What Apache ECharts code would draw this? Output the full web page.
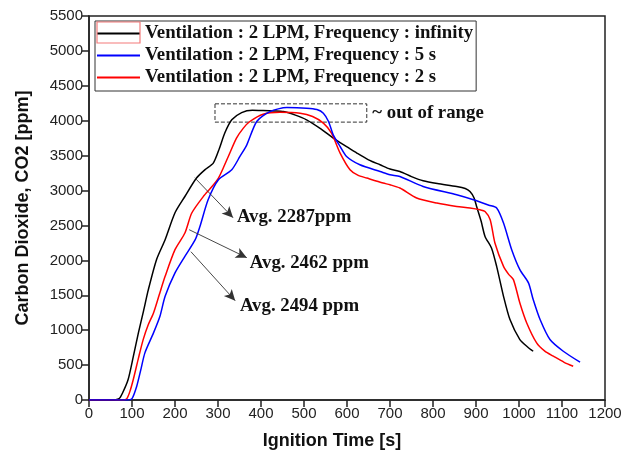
<!doctype html>
<html>
<head>
<meta charset="UTF-8">
<title>CO2</title>
<script src="https://cdn.jsdelivr.net/npm/echarts@6/dist/echarts.min.js"></script>
<style>
  html, body { margin: 0; padding: 0; background: #fff; }
  #chart { width: 634px; height: 459px; }
</style>
</head>
<body>
<div id="chart"></div>
<script>
// series names
var names = [
  'Ventilation : 2 LPM, Frequency : infinity',
  'Ventilation : 2 LPM, Frequency : 5 s',
  'Ventilation : 2 LPM, Frequency : 2 s'
];

// Frequency : infinity (black)
var blackT = [0, 50, 70, 78, 91, 103, 115, 127, 138, 157, 177, 200, 223, 250, 270, 289, 303, 316, 332, 355, 380, 405, 430, 452, 480, 506, 540, 568, 600, 623, 650, 677, 700, 723, 750, 777, 810, 855, 875, 886, 895, 902, 912, 921, 936, 948, 964, 979, 1002, 1020, 1033];
var blackV = [0, 0, 20, 100, 293, 620, 965, 1280, 1580, 2010, 2296, 2682, 2915, 3179, 3300, 3393, 3600, 3827, 4013, 4117, 4150, 4146, 4140, 4131, 4080, 4013, 3880, 3751, 3625, 3536, 3440, 3369, 3308, 3273, 3200, 3140, 3100, 3059, 3030, 2987, 2900, 2760, 2560, 2343, 2177, 1914, 1485, 1152, 866, 760, 698];

// Frequency : 5 s (blue)
var blueT = [0, 90, 100, 111, 120, 130, 150, 165, 177, 200, 223, 247, 258, 277, 301, 332, 351, 367, 390, 421, 460, 506, 530, 545, 557, 568, 584, 599, 630, 677, 700, 723, 777, 855, 894, 930, 948, 964, 983, 1002, 1022, 1033, 1049, 1072, 1103, 1142];
var blueV = [0, 0, 20, 198, 420, 675, 961, 1200, 1485, 1820, 2057, 2296, 2486, 2868, 3155, 3298, 3488, 3655, 3989, 4131, 4189, 4180, 4160, 4108, 3989, 3798, 3631, 3488, 3369, 3273, 3226, 3202, 3059, 2940, 2868, 2790, 2750, 2535, 2153, 1867, 1677, 1438, 1152, 866, 698, 541];

// Frequency : 2 s (red)
var redT = [0, 80, 88, 95, 103, 115, 126, 138, 150, 163, 177, 200, 223, 239, 266, 285, 301, 312, 324, 343, 359, 374, 405, 444, 491, 520, 545, 564, 584, 607, 625, 646, 684, 700, 723, 762, 809, 855, 886, 909, 921, 933, 944, 964, 976, 987, 1002, 1018, 1041, 1060, 1080, 1105, 1126];
var redV = [0, 0, 20, 120, 293, 600, 865, 1080, 1247, 1500, 1771, 2153, 2392, 2678, 2916, 3050, 3179, 3320, 3488, 3751, 3894, 3989, 4094, 4122, 4108, 4060, 3965, 3822, 3536, 3297, 3220, 3179, 3107, 3083, 3036, 2893, 2821, 2773, 2750, 2725, 2701, 2582, 2249, 1914, 1800, 1724, 1390, 1104, 818, 700, 627, 540, 484];

// annotations
var avgTexts = ['Avg. 2287ppm', 'Avg. 2462 ppm', 'Avg. 2494 ppm'];
var arrowFrom = [[246, 3183], [233, 2439], [237, 2124]];
var arrowTo = [[335, 2611], [367, 2039], [340, 1423]];
var textAt = [[344, 2625], [374, 1967], [351, 1338]];
var rangeBox = [[293, 4242], [646, 3980]];

function pairs(t, v) {
  var out = [];
  for (var i = 0; i < t.length; i++) out.push([t[i], v[i]]);
  return out;
}

var serif = '"Liberation Serif", "Times New Roman", serif';
var sans = '"Liberation Sans", Arial, sans-serif';

var myChart = echarts.init(document.getElementById('chart'));

var arrowLines = [];
var avgPoints = [];
for (var i = 0; i < arrowFrom.length; i++) {
  arrowLines.push([{ coord: arrowFrom[i] }, { coord: arrowTo[i] }]);
  avgPoints.push({ coord: textAt[i], value: avgTexts[i] });
}

var baseLine = {
  type: 'line',
  symbol: 'none',
  smooth: 0.25,
  animation: false
};

var option = {
  backgroundColor: '#fff',
  animation: false,
  grid: {
    left: 89, right: 29, top: 16, bottom: 59,
    show: true, borderColor: '#222', borderWidth: 1.5
  },
  legend: {
    orient: 'vertical',
    left: 95, top: 21,
    padding: [2, 3, 3, 2],
    itemGap: 1,
    itemWidth: 43,
    itemHeight: 2,
    icon: 'rect',
    borderColor: '#333',
    borderWidth: 1,
    backgroundColor: '#fff',
    textStyle: { fontFamily: serif, fontWeight: 'bold', fontSize: 18.8, color: '#111', lineHeight: 21 },
    data: names
  },
  xAxis: {
    type: 'value', min: 0, max: 1200, interval: 100,
    name: 'Ignition Time [s]', nameLocation: 'middle', nameGap: 32,
    nameTextStyle: { fontFamily: sans, fontWeight: 'bold', fontSize: 18, color: '#111', padding: [0, 30, 0, 0] },
    axisLine: { lineStyle: { color: '#222', width: 1.5 } },
    axisTick: { inside: false, length: 7, lineStyle: { color: '#222', width: 1.5 } },
    axisLabel: { fontFamily: sans, fontSize: 15, color: '#222', margin: 6, formatter: function (v) { return String(v); } },
    splitLine: { show: false }
  },
  yAxis: {
    type: 'value', min: 0, max: 5500, interval: 500,
    name: 'Carbon Dioxide, CO2 [ppm]', nameLocation: 'middle', nameGap: 57,
    nameTextStyle: { fontFamily: sans, fontWeight: 'bold', fontSize: 18, color: '#111' },
    axisLine: { show: true, lineStyle: { color: '#222', width: 1.5 } },
    axisTick: { show: true, inside: false, length: 7, lineStyle: { color: '#222', width: 1.5 } },
    axisLabel: { fontFamily: sans, fontSize: 15, color: '#222', margin: 6, formatter: function (v) { return String(v); } },
    splitLine: { show: false }
  },
  series: [
    Object.assign({}, baseLine, {
      name: names[0],
      data: pairs(blackT, blackV),
      color: '#000000',
      lineStyle: { color: '#000000', width: 1.5 },
      z: 2,
      markArea: {
        silent: true,
        itemStyle: { color: 'rgba(0,0,0,0)', borderColor: '#333', borderWidth: 1, borderType: 'dashed' },
        label: {
          show: true, position: 'right', distance: 5,
          fontFamily: serif, fontWeight: 'bold', fontSize: 18.8, color: '#111'
        },
        data: [[{ coord: rangeBox[0], name: '~ out of range' }, { coord: rangeBox[1] }]]
      },
      markLine: {
        silent: true,
        symbol: ['none', 'arrow'],
        symbolSize: [8, 11],
        label: { show: false },
        lineStyle: { color: '#333', width: 0.9, type: 'solid' },
        emphasis: { disabled: true },
        data: arrowLines
      },
      markPoint: {
        silent: true,
        symbol: 'circle',
        symbolSize: 0,
        label: {
          show: true, position: 'right', distance: 0,
          formatter: function (p) { return p.value; },
          fontFamily: serif, fontWeight: 'bold', fontSize: 18.8, color: '#111'
        },
        data: avgPoints
      }
    }),
    Object.assign({}, baseLine, {
      name: names[1],
      data: pairs(blueT, blueV),
      color: '#0000ff',
      lineStyle: { color: '#0000ff', width: 1.5 },
      z: 4
    }),
    Object.assign({}, baseLine, {
      name: names[2],
      data: pairs(redT, redV),
      color: '#ff0000',
      lineStyle: { color: '#ff0000', width: 1.5 },
      z: 3
    })
  ],
  graphic: [{
    type: 'rect',
    z: 100,
    shape: { x: 97, y: 22, width: 43, height: 21 },
    style: { fill: 'none', stroke: '#f47a7a', lineWidth: 1.2 }
  }]
};

myChart.setOption(option);
</script>
</body>
</html>
